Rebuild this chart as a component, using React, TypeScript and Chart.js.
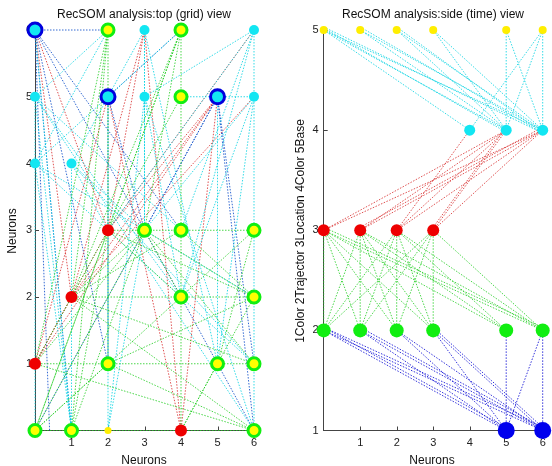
import React, { useEffect, useRef } from "react";
import { Chart, registerables } from "chart.js";
Chart.register(...registerables);

type Edge = [number, number, number, number];
type Pt = [number, number];

// ---------- LEFT: top (grid) view ----------
const leftRingNodes: Pt[] = [[2,6],[4,6],[4,5],[3,3],[4,3],[6,3],[4,2],[6,2],[2,1],[5,1],[6,1],[0,0],[1,0],[6,0]];
const leftBlueRingNodes: Pt[] = [[0,6],[2,5],[5,5]];
const leftCyanNodes: Pt[] = [[3,6],[6,6],[0,5],[3,5],[6,5],[0,4],[1,4]];
const leftRedNodes: Pt[] = [[2,3],[1,2],[0,1],[4,0]];
const leftYellowNodes: Pt[] = [[2,0]];

const leftBlueEdges: Edge[] = [
  [0,6,2,6],[0,6,6,0],[0,6,1,0],[0,6,2,1],[0,6,4,3],[0,6,0.4,0],
  [2,5,4,6],[2,5,2,1],[5,5,0,0],[5,5,6,1],[5,5,6,0],[5,5,3,3],[2,5,3,3],
];
const leftRedEdges: Edge[] = [
  [0,1,2,5],[0,6,2,3],[3,6,1,2],[3,6,2,3],[1,2,5,5],[2,3,5,5],[0,1,5,5],
  [2,3,6,6],[1,2,6,5],[4,0,2,5],[4,0,5,5],[0,1,1,2],[0,6,1,2],[0,1,2,3],[4,0,3,6],
];
const leftGreenEdges: Edge[] = [
  [0,0,6,0],[0,1,6,1],[1,2,6,2],[2,3,6,3],[4,0,4,6],[2,6,2,3],[2,1,2,3],
  [0,0,2,3],[0,0,3,3],[1,0,2,3],[1,0,3,3],[0,1,2,3],[0,1,3,3],[0,1,6,0],
  [1,2,6,0],[1,2,6,1],[1,2,4,3],[2,6,1,2],[2,6,0,1],[4,6,2,3],[4,6,1,2],
  [4,5,2,3],[4,0,6,2],[4,0,5,1],[5,1,6,3],[3,3,6,1],[3,3,6,2],[2,3,6,2],
  [2,1,6,2],[2,1,6,0],[0,0,4,2],[4,6,3,3],[2,6,1,0],[4,2,6,3],[3,3,4,2],
  [2,3,4,2],[0,0,2,1],[4,3,6,2],[1,2,3,3],[4,6,0,0],
];
const leftCyanEdges: Edge[] = [
  [0,5,2,6],[0,4,4,6],[0,5,0,0],[1,4,1,0],[6,6,6,0],[6,6,3,5],[6,6,2,3],
  [6,6,4,2],[3,6,3,3],[3,5,3,3],[3,5,2,0],[6,5,5,1],[6,5,4,2],[0,4,6,1],
  [0,4,6,2],[1,4,2,3],[0,5,4,3],[6,5,5,5],[4,5,5,5],[3,6,5,1],[0,5,1,0],
  [0,4,1,0],[2,6,0,4],[3,6,3,5],[2,5,2,0],[3,3,2,0],[6,6,4,3],[3,5,6,0],
  [0,5,6,0],[1,4,6,1],[0,6,1,0],[3,6,1,4],[6,5,3,3],[5,5,5,1],[3,5,4,2],
  [0,5,4,2],[1,4,3,3],
];

// ---------- RIGHT: side (time) view ----------
const rightYellowNodes: Pt[] = [[0,5],[1,5],[2,5],[3,5],[5,5],[6,5]];
const rightCyanNodes: Pt[] = [[4,4],[5,4],[6,4]];
const rightRedNodes: Pt[] = [[0,3],[1,3],[2,3],[3,3]];
const rightGreenNodes: Pt[] = [[0,2],[1,2],[2,2],[3,2],[5,2],[6,2]];
const rightBlueNodes: Pt[] = [[5,1],[6,1]];

const rightCyanEdges: Edge[] = [
  [0,5,4,4],[0,5,5,4],[0,5,6,4],[0,5.03,6,3.97],[0,5.02,5,3.98],
  [1,5,5,4],[1,5,6,4],[1,5.03,6,3.97],[2,5,5,4],[2,5,6,4],[2,5.03,6,3.97],
  [3,5,5,4],[3,5,6,4],[5,5,5,4],[5,5,6,4],[6,5,4,4],[6,5,5,4],[6,5,6,4],
];
const rightRedEdges: Edge[] = [
  [0,3,5,4],[0,3,6,4],[1,3,5,4],[1,3,6,4],[1,3.03,6,4.03],[2,3,4,4],
  [2,3,5,4],[2,3,6,4],[3,3,5,4],[3,3,6,4],[3,3.03,5,4.03],
];
const rightGreenEdges: Edge[] = [
  [0,3,1,2],[0,3,2,2],[0,3,3,2],[0,3,5,2],[0,3,6,2],[0,3.03,6,2.03],
  [1,3,0,2],[1,3,1,2],[1,3,2,2],[1,3,3,2],[1,3,6,2],[1,3,5,2],
  [2,3,0,2],[2,3,1,2],[2,3,2,2],[2,3,3,2],[2,3,6,2],[2,3,5,2],
  [3,3,0,2],[3,3,1,2],[3,3,2,2],[3,3,3,2],[3,3,6,2],[0,3,0,2],
];
const rightBlueEdges: Edge[] = [
  [0,2,5,1],[0,2.03,5,1.03],[0,2,6,1],[0,2.03,6,1.03],[1,2,5,1],[1,2,6,1],
  [1,2.03,6,1.03],[2,2,5,1],[2,2,6,1],[3,2,5,1],[3,2,6,1],[3,2.03,6,1.03],
  [5,2,5,1],[6,2,5,1],[6,2,6,1],
];

const xTickValues = [1, 2, 3, 4, 5, 6];

const FONT = '"Liberation Sans", Arial, sans-serif';

type NodeSpec = { pts: Pt[]; r: number; fill: string; stroke?: string; bw?: number };
type EdgeSpec = { edges: Edge[]; color: string };

function nodeDs(n: NodeSpec) {
  return {
    data: n.pts.map(([x, y]) => ({ x, y })),
    showLine: false,
    pointRadius: n.r,
    pointBackgroundColor: n.fill,
    pointBorderColor: n.stroke || n.fill,
    pointBorderWidth: n.bw || 0,
    clip: false,
    order: 0,
  };
}
function edgeDs(e: EdgeSpec) {
  return e.edges.map(([x1, y1, x2, y2]) => ({
    data: [{ x: x1, y: y1 }, { x: x2, y: y2 }],
    showLine: true,
    pointRadius: 0,
    borderColor: e.color,
    borderWidth: 1,
    borderDash: [1.5, 1.5],
    clip: false,
    order: 1,
  }));
}

type Spec = {
  nodes: NodeSpec[];
  edges: EdgeSpec[];
  yMin: number; yMax: number; yTicks: number[];
  yWidth: number; padRight: number; xHeight: number;
  title: string; titleX: number; xTitle: string; xTitleX: number;
  yTitle: string; yTitleX: number; yPad: number;
};

function makeChart(canvas: HTMLCanvasElement, s: Spec) {
  const decor = {
    id: "decor",
    beforeDatasetsDraw(chart: any) {
      const ctx = chart.ctx, xs = chart.scales.x, ys = chart.scales.y;
      ctx.save();
      ctx.strokeStyle = "#444";
      ctx.lineWidth = 1;
      for (const v of xTickValues) {
        const px = Math.round(xs.getPixelForValue(v)) + 0.5;
        ctx.beginPath(); ctx.moveTo(px, ys.bottom); ctx.lineTo(px, ys.bottom - 4); ctx.stroke();
      }
      for (const v of s.yTicks) {
        const py = Math.round(ys.getPixelForValue(v)) + 0.5;
        ctx.beginPath(); ctx.moveTo(xs.left, py); ctx.lineTo(xs.left + 4, py); ctx.stroke();
      }
      ctx.restore();
    },
    afterDraw(chart: any) {
      const ctx = chart.ctx;
      ctx.save();
      ctx.fillStyle = "#111";
      ctx.font = `12px ${FONT}`;
      ctx.textAlign = "center";
      ctx.textBaseline = "middle";
      ctx.fillText(s.title, s.titleX, 15);
      ctx.fillText(s.xTitle, s.xTitleX, 461);
      ctx.translate(s.yTitleX, 231);
      ctx.rotate(-Math.PI / 2);
      ctx.fillText(s.yTitle, 0, 0);
      ctx.restore();
    },
  };
  const datasets: any[] = [...s.nodes.map(nodeDs)];
  for (const e of s.edges) datasets.push(...edgeDs(e));
  return new Chart(canvas, {
    type: "scatter",
    data: { datasets },
    options: {
      responsive: false,
      animation: false,
      events: [],
      devicePixelRatio: 1,
      layout: { padding: { left: 0, right: s.padRight, top: 30, bottom: 0 } },
      plugins: { legend: { display: false }, tooltip: { enabled: false }, title: { display: false } },
      scales: {
        x: {
          type: "linear", min: 0, max: 6,
          grid: { display: false, drawTicks: false },
          border: { display: true, color: "#444", width: 1 },
          ticks: {
            stepSize: 1, autoSkip: false, maxRotation: 0, padding: 6,
            font: { family: FONT, size: 11 }, color: "#222",
            callback: (v: any) => (v === 0 ? "" : String(v)),
          },
          afterFit: (sc: any) => { sc.height = s.xHeight; },
        },
        y: {
          type: "linear", min: s.yMin, max: s.yMax,
          grid: { display: false, drawTicks: false },
          border: { display: true, color: "#444", width: 1 },
          ticks: {
            stepSize: 1, autoSkip: false, padding: s.yPad,
            font: { family: FONT, size: 11 }, color: "#222",
            callback: (v: any) => (v === 0 ? "" : String(v)),
          },
          afterFit: (sc: any) => { sc.width = s.yWidth; },
        },
      },
    } as any,
    plugins: [decor],
  });
}

const CYAN = "#12e6f2";
const RING_FILL = "#ffff00";
const RING_GREEN = "#11ee11";
const CYAN_LINE = "rgba(0,210,225,0.8)";
const GREEN_LINE = "rgba(30,205,30,0.8)";
const RED_LINE = "rgba(215,40,40,0.8)";

const leftSpec: Spec = {
  nodes: [
    { pts: leftRingNodes, r: 6, fill: RING_FILL, stroke: RING_GREEN, bw: 3 },
    { pts: leftBlueRingNodes, r: 7, fill: CYAN, stroke: "#0000dd", bw: 3 },
    { pts: leftCyanNodes, r: 5, fill: CYAN },
    { pts: leftRedNodes, r: 6, fill: "#ee0000" },
    { pts: leftYellowNodes, r: 3.5, fill: "#ffee00" },
  ],
  edges: [
    { edges: leftGreenEdges, color: GREEN_LINE },
    { edges: leftCyanEdges, color: CYAN_LINE },
    { edges: leftRedEdges, color: RED_LINE },
    { edges: leftBlueEdges, color: "rgba(30,90,205,0.9)" },
  ],
  yMin: 0, yMax: 6, yTicks: [1, 2, 3, 4, 5, 6],
  yWidth: 35, padRight: 22, xHeight: 35.5,
  title: "RecSOM analysis:top (grid) view", titleX: 144,
  xTitle: "Neurons", xTitleX: 144,
  yTitle: "Neurons", yTitleX: 13, yPad: 3,
};

const rightSpec: Spec = {
  nodes: [
    { pts: rightYellowNodes, r: 4, fill: "#ffee00" },
    { pts: rightCyanNodes, r: 5.5, fill: CYAN },
    { pts: rightRedNodes, r: 6, fill: "#ee0000" },
    { pts: rightGreenNodes, r: 7, fill: RING_GREEN },
    { pts: rightBlueNodes, r: 8.5, fill: "#0000ee" },
  ],
  edges: [
    { edges: rightCyanEdges, color: CYAN_LINE },
    { edges: rightRedEdges, color: RED_LINE },
    { edges: rightGreenEdges, color: GREEN_LINE },
    { edges: rightBlueEdges, color: "rgba(30,30,215,0.9)" },
  ],
  yMin: 1, yMax: 5, yTicks: [2, 3, 4, 5],
  yWidth: 47.7, padRight: 9.3, xHeight: 35.5,
  title: "RecSOM analysis:side (time) view", titleX: 157,
  xTitle: "Neurons", xTitleX: 156,
  yTitle: "1Color 2Trajector 3Location 4Color 5Base", yTitleX: 25, yPad: 5,
};

export default function App() {
  const leftRef = useRef<HTMLCanvasElement | null>(null);
  const rightRef = useRef<HTMLCanvasElement | null>(null);
  useEffect(() => {
    const a = makeChart(leftRef.current!, leftSpec);
    const b = makeChart(rightRef.current!, rightSpec);
    return () => { a.destroy(); b.destroy(); };
  }, []);
  return (
    <div style={{ position: "absolute", left: 0, top: 0, width: 552, height: 466, background: "#fff" }}>
      <canvas ref={leftRef} width={276} height={466} style={{ position: "absolute", left: 0, top: 0, width: 276, height: 466 }} />
      <canvas ref={rightRef} width={276} height={466} style={{ position: "absolute", left: 276, top: 0, width: 276, height: 466 }} />
    </div>
  );
}
